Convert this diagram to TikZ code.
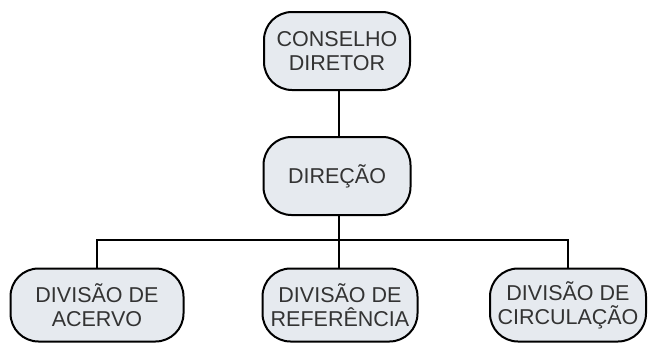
\documentclass[tikz,border=0pt]{standalone}
\usepackage{fontspec}
\setmainfont{Liberation Sans}
\usetikzlibrary{positioning,calc}
\definecolor{boxfill}{HTML}{E6EAEF}
\definecolor{boxtext}{HTML}{333333}

\begin{document}
\begin{tikzpicture}[x=1pt,y=-1pt]
\tikzset{orgbox/.style={draw,line width=2pt,fill=boxfill,text=boxtext,rounded corners=28pt,align=center,
  inner sep=0pt,font=\fontsize{21.5}{24}\selectfont}}
\tikzset{orgline/.style={line width=2pt}}
\useasboundingbox (0,0) rectangle (651,343);
\node[orgbox,minimum width=146pt,minimum height=78pt](conselho) at (337,51) {CONSELHO\\DIRETOR};
\node[orgbox,minimum width=147pt,minimum height=78pt](direcao) at (337,176) {DIREÇÃO};
\node[orgbox,minimum width=173pt,minimum height=73pt](acervo) at (97,305) {DIVISÃO DE\\ACERVO};
\node[orgbox,minimum width=155pt,minimum height=73pt](referencia) at (340,305) {DIVISÃO DE\\REFERÊNCIA};
\node[orgbox,minimum width=156pt,minimum height=73pt](circulacao) at (568,305) {DIVISÃO DE\\CIRCULAÇÃO};
\coordinate(bus) at (339,240);
\draw[orgline] (conselho.south -| bus) -- (direcao.north -| bus);
\draw[orgline] (direcao.south -| bus) -- (bus);
\draw[orgline] (acervo.north) |- (bus) -| (circulacao.north);
\draw[orgline] (bus) -- (referencia.north -| bus);
\end{tikzpicture}
\end{document}
